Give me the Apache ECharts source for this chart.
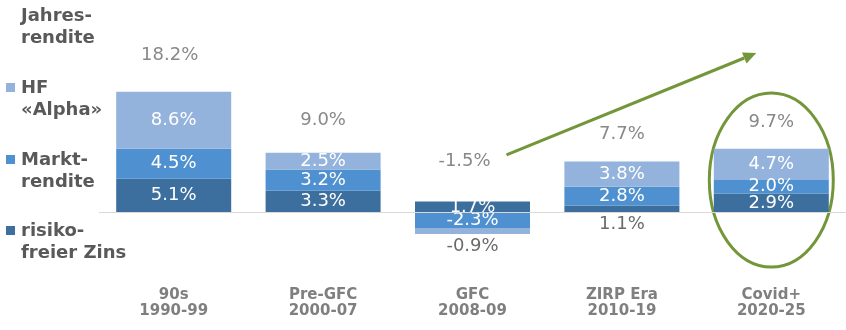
<!DOCTYPE html>
<html>
<head>
<meta charset="utf-8">
<script src="https://cdn.jsdelivr.net/npm/echarts@6/dist/echarts.min.js"></script>
<style>
  html, body { margin: 0; padding: 0; background: #ffffff; }
  #chart { width: 846px; height: 330px; }
</style>
</head>
<body>
<div id="chart"></div>
<script>
// Return components per period (percent p.a.)
const categories = ['90s\n1990-99', 'Pre-GFC\n2000-07', 'GFC\n2008-09', 'ZIRP Era\n2010-19', 'Covid+\n2020-25'];
const riskFree = [5.1, 3.3, 1.7, 1.1, 2.9];
const marketReturn = [4.5, 3.2, -2.3, 2.8, 2.0];
const hfAlpha = [8.6, 2.5, -0.9, 3.8, 4.7];
const annualReturn = [18.2, 9.0, -1.5, 7.7, 9.7];

// Segment labels that sit below the bar instead of inside it
const alphaBelow = [2];
const riskFreeBelow = [3];

// Pixel lift / shift of the annual-return label above each stack
const totalLift = [36, 33, 40, 27, 27];
const totalShift = [-4, 0, -8, 0, 0];

const COLORS = { dark: '#3d6f9e', mid: '#4e90d0', light: '#93b3dc', green: '#74963a' };
const FONT = 'DejaVu Sans';
const GREY_VALUE = '#6a6a6a';

const fmt = v => v.toFixed(1) + '%';

function segmentData(values, below) {
  return values.map((v, i) => below.includes(i)
    ? { value: v, label: { position: 'bottom', distance: 3, color: GREY_VALUE } }
    : v);
}

const insideLabel = {
  show: true,
  position: 'inside',
  color: '#ffffff',
  fontFamily: FONT,
  fontSize: 18,
  formatter: p => fmt(p.value)
};

// top of the positive part of each stack
const stackTop = categories.map((_, i) =>
  [riskFree[i], marketReturn[i], hfAlpha[i]].filter(v => v > 0).reduce((a, b) => a + b, 0));

const chart = echarts.init(document.getElementById('chart'), null, { renderer: 'canvas' });

const option = {
  animation: false,
  backgroundColor: '#ffffff',
  grid: { left: 99, top: 46.45, width: 751, height: 232.75, containLabel: false },
  xAxis: {
    type: 'category',
    data: categories,
    axisLine: { show: false, onZero: false },
    axisTick: { show: false },
    splitLine: { show: false },
    axisLabel: {
      color: '#7f7f7f',
      fontFamily: FONT,
      fontWeight: 'bold',
      fontSize: 15,
      lineHeight: 16,
      margin: 8
    }
  },
  yAxis: {
    type: 'value',
    min: -10,
    max: 25,
    show: false,
    splitLine: { show: false }
  },
  series: [
    {
      name: 'risiko-freier Zins',
      type: 'bar',
      stack: 'r',
      barWidth: 115,
      itemStyle: { color: COLORS.dark },
      label: insideLabel,
      data: segmentData(riskFree, riskFreeBelow)
    },
    {
      name: 'Marktrendite',
      type: 'bar',
      stack: 'r',
      barWidth: 115,
      itemStyle: { color: COLORS.mid },
      label: insideLabel,
      data: segmentData(marketReturn, [])
    },
    {
      name: 'HF «Alpha»',
      type: 'bar',
      stack: 'r',
      barWidth: 115,
      itemStyle: { color: COLORS.light },
      label: insideLabel,
      data: segmentData(hfAlpha, alphaBelow)
    },
    {
      name: 'Jahresrendite',
      type: 'scatter',
      z: 5,
      symbol: 'circle',
      symbolSize: 1,
      itemStyle: { color: 'rgba(255,255,255,0)' },
      silent: true,
      label: {
        show: true,
        position: 'inside',
        color: GREY_VALUE,
        fontFamily: FONT,
        fontSize: 18,
        formatter: p => fmt(annualReturn[p.dataIndex])
      },
      data: stackTop.map((v, i) => ({
        value: v,
        label: { offset: [totalShift[i], -totalLift[i]] }
      })),
      markLine: {
        silent: true,
        symbol: 'none',
        label: { show: false },
        lineStyle: { color: '#d9d9d9', width: 1, type: 'solid' },
        data: [{ yAxis: 0 }]
      }
    }
  ]
};

chart.setOption(option);

// Legend block on the left
const legendText = {
  fill: '#595959',
  font: 'bold 18px "DejaVu Sans"',
  lineHeight: 22,
  textVerticalAlign: 'top'
};
const legendItems = [
  { text: 'Jahres-\nrendite', top: 5, color: null },
  { text: 'HF\n«Alpha»', top: 77, color: COLORS.light },
  { text: 'Markt-\nrendite', top: 149, color: COLORS.mid },
  { text: 'risiko-\nfreier Zins', top: 220, color: COLORS.dark }
];
const graphics = [];
legendItems.forEach(item => {
  graphics.push({
    type: 'text', left: 21, top: item.top,
    style: Object.assign({ text: item.text }, legendText)
  });
  if (item.color) {
    graphics.push({
      type: 'rect', shape: { x: 6, y: item.top + 6, width: 9, height: 9 },
      style: { fill: item.color }
    });
  }
});

// Trend arrow from the GFC label towards the latest period, plus highlight ellipse
const toPx = (c, v) => chart.convertToPixel({ gridIndex: 0 }, [c, v]);
const a0 = toPx(2, 8.7); a0[0] += 34;
const a1 = toPx(4, 24.0); a1[0] -= 15;
const ang = Math.atan2(a1[1] - a0[1], a1[0] - a0[0]);
const headLen = 13, headHalf = 6;
const base = [a1[0] - headLen * Math.cos(ang), a1[1] - headLen * Math.sin(ang)];
const perp = [-Math.sin(ang), Math.cos(ang)];
graphics.push({
  type: 'line',
  shape: { x1: a0[0], y1: a0[1], x2: base[0], y2: base[1] },
  style: { stroke: COLORS.green, lineWidth: 3 }
});
graphics.push({
  type: 'polygon',
  shape: { points: [a1, [base[0] + perp[0] * headHalf, base[1] + perp[1] * headHalf], [base[0] - perp[0] * headHalf, base[1] - perp[1] * headHalf]] },
  style: { fill: COLORS.green }
});
const ec = toPx(4, 4.9);
graphics.push({
  type: 'ellipse',
  shape: { cx: ec[0], cy: ec[1], rx: 62, ry: 87 },
  style: { fill: null, stroke: COLORS.green, lineWidth: 3 }
});

chart.setOption({ graphic: graphics });
</script>
</body>
</html>
